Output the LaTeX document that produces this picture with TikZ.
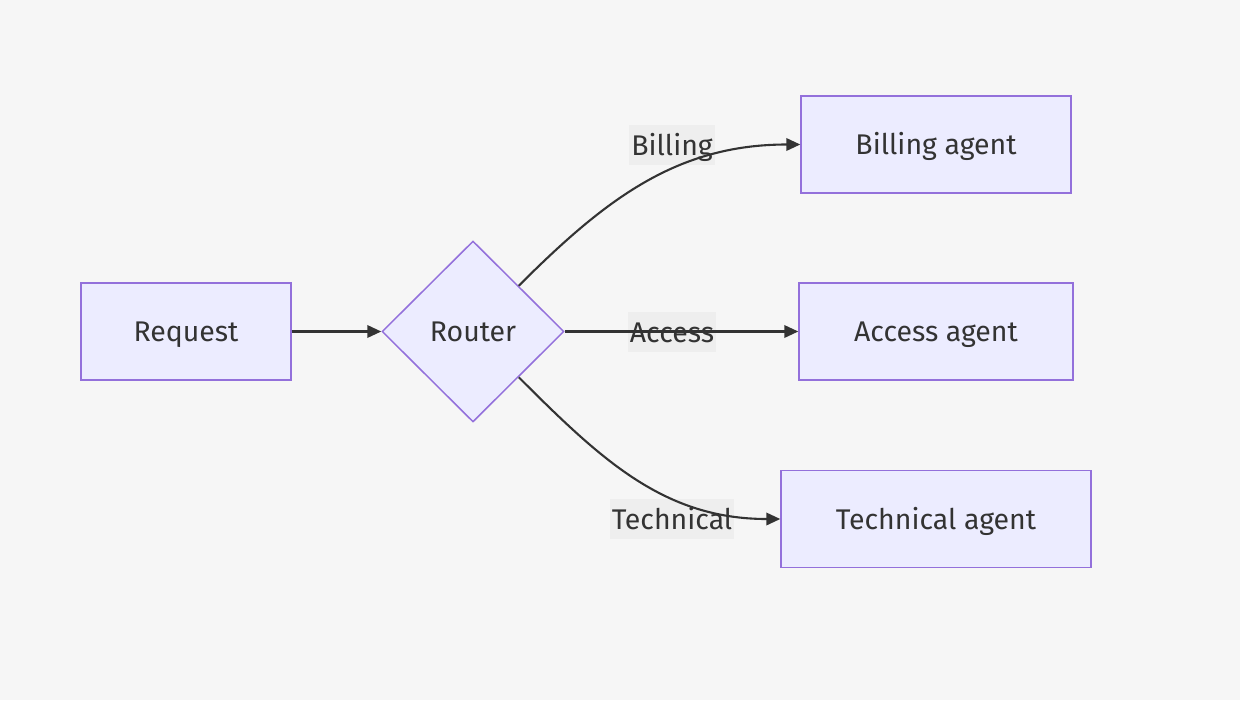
\documentclass[tikz,border=0pt]{standalone}
\usepackage{fontspec}
\setmainfont{Fira Sans}
\usetikzlibrary{shapes.geometric,arrows.meta,positioning}
\definecolor{bgcol}{HTML}{F6F6F6}
\definecolor{nodefill}{HTML}{ECECFF}
\definecolor{nodeline}{HTML}{9370DB}
\definecolor{inkcol}{HTML}{333333}
\definecolor{labelfill}{HTML}{EEEEEE}

\tikzset{
  box/.style={draw=nodeline, fill=nodefill, line width=0.3mm, text=inkcol,
    minimum height=1.94cm, inner sep=0pt, text height=11.4pt, text depth=0pt},
  choice/.style={diamond, draw=nodeline, fill=nodefill, line width=0.3mm, text=inkcol,
    minimum width=3.64cm, minimum height=3.62cm, inner sep=0pt, text height=11.4pt, text depth=0pt},
  edge/.style={draw=inkcol, line width=0.42mm, -{Triangle[length=2.8mm,width=2.5mm]}},
  edgelabel/.style={fill=labelfill, text=inkcol, minimum height=0.8cm, inner xsep=1pt, inner ysep=0pt,
    text height=11.4pt, text depth=0pt}
}

\begin{document}
\begin{tikzpicture}[x=0.02cm, y=-0.02cm, font=\fontsize{16.2}{19}\selectfont]
\fill[bgcol] (0,0) rectangle (1240,700);
\useasboundingbox (0,0) rectangle (1240,700);

% nodes
\node[box, minimum width=4.2cm] (request) at (186,331.5) {Request};
\node[choice] (router) at (473,331.5) {Router};
\node[box, minimum width=5.4cm] (billing) at (936,144.5) {Billing agent};
\node[box, minimum width=5.48cm] (access) at (936,331.5) {Access agent};
\node[box, minimum width=6.2cm] (technical) at (936,519) {Technical agent};

% edge labels
\node[edgelabel] (lbill) at (672,145) {Billing};
\node[edgelabel] (lacc) at (672,332) {Access};
\node[edgelabel] (ltech) at (672,519) {Technical};

% edges
\draw[edge] (request) -- (router);
\draw[edge] (router) to[out=45, in=180] (billing.west);
\draw[edge] (router) -- (access);
\draw[edge] (router) to[out=-45, in=180] (technical.west);
\end{tikzpicture}
\end{document}
